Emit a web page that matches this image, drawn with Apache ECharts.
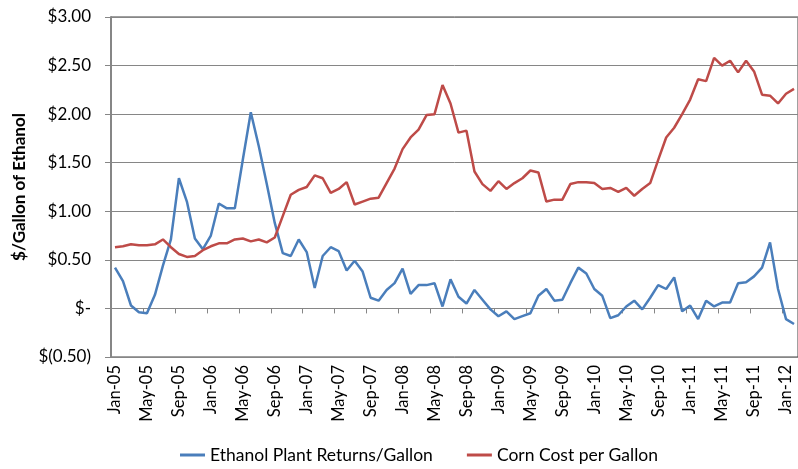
<!DOCTYPE html>
<html>
<head>
<meta charset="utf-8">
<script src="https://cdn.jsdelivr.net/npm/echarts@6/dist/echarts.min.js"></script>
<style>
  html, body { margin: 0; padding: 0; background: #fff; }
  #chart { width: 798px; height: 469px; }
</style>
</head>
<body>
<div id="chart"></div>
<script>
// monthly, Jan-05 .. Feb-12
var monthNames = ['Jan','Feb','Mar','Apr','May','Jun','Jul','Aug','Sep','Oct','Nov','Dec'];
var years = ['05','06','07','08','09','10','11','12'];
var categories = [];
years.forEach(function (y) {
  monthNames.forEach(function (m) { categories.push(m + '-' + y); });
});
categories = categories.slice(0, 86);

var plantReturns = [
  0.42, 0.28, 0.03, -0.04, -0.05, 0.14, 0.44, 0.71, 1.34, 1.10, 0.72, 0.61,
  0.75, 1.08, 1.03, 1.03, 1.53, 2.02, 1.67, 1.28, 0.88, 0.57, 0.54, 0.71,
  0.58, 0.21, 0.54, 0.63, 0.59, 0.39, 0.49, 0.38, 0.11, 0.08, 0.19, 0.26,
  0.41, 0.15, 0.24, 0.24, 0.26, 0.02, 0.30, 0.12, 0.05, 0.19, 0.09, -0.01,
  -0.08, -0.03, -0.11, -0.08, -0.05, 0.13, 0.20, 0.08, 0.09, 0.26, 0.42, 0.36,
  0.20, 0.13, -0.10, -0.07, 0.02, 0.08, -0.01, 0.11, 0.24, 0.20, 0.32, -0.03,
  0.03, -0.11, 0.08, 0.02, 0.06, 0.06, 0.26, 0.27, 0.33, 0.42, 0.68, 0.20,
  -0.11, -0.16
];
var cornCost = [
  0.63, 0.64, 0.66, 0.65, 0.65, 0.66, 0.71, 0.63, 0.56, 0.53, 0.54, 0.60,
  0.64, 0.67, 0.67, 0.71, 0.72, 0.69, 0.71, 0.68, 0.73, 0.95, 1.17, 1.22,
  1.25, 1.37, 1.34, 1.19, 1.23, 1.30, 1.07, 1.10, 1.13, 1.14, 1.29, 1.44,
  1.64, 1.76, 1.84, 1.99, 2.00, 2.30, 2.11, 1.81, 1.83, 1.41, 1.28, 1.21,
  1.31, 1.23, 1.29, 1.34, 1.42, 1.40, 1.10, 1.12, 1.12, 1.28, 1.30, 1.30,
  1.29, 1.23, 1.24, 1.20, 1.24, 1.16, 1.23, 1.29, 1.53, 1.76, 1.86, 2.00,
  2.15, 2.36, 2.34, 2.58, 2.50, 2.55, 2.43, 2.55, 2.44, 2.20, 2.19, 2.11,
  2.21, 2.26
];

var FONT = 'Lato, "Open Sans", sans-serif';

function money(v) {
  if (Math.abs(v) < 1e-9) return '$-';
  if (v < 0) return '$(' + (-v).toFixed(2) + ')';
  return '$' + v.toFixed(2);
}

var chart = echarts.init(document.getElementById('chart'));
chart.setOption({
  animation: false,
  textStyle: { fontFamily: FONT },
  grid: {
    left: 111, right: -1, top: 17, bottom: 112,
    show: true, borderColor: '#404040', borderWidth: 1
  },
  legend: {
    bottom: 0, left: 175,
    itemWidth: 25, itemHeight: 3, itemGap: 34,
    icon: 'rect',
    textStyle: { fontSize: 17.5, color: '#000', fontFamily: FONT },
    data: ['Ethanol Plant Returns/Gallon', 'Corn Cost per Gallon']
  },
  xAxis: [{
    type: 'category',
    data: categories,
    boundaryGap: true,
    axisLine: { show: false },
    axisTick: { show: false },
    axisLabel: {
      interval: 3, rotate: 90, margin: 8,
      fontSize: 16.5, color: '#000', fontFamily: FONT
    },
    splitLine: { show: false }
  }, {
    type: 'category',
    data: categories,
    boundaryGap: true,
    position: 'bottom',
    axisLine: { show: true, onZero: true, onZeroAxisIndex: 0, lineStyle: { color: '#868686', width: 1 } },
    axisTick: { show: true, interval: 3, length: 5, lineStyle: { color: '#868686' } },
    axisLabel: { show: false },
    splitLine: { show: false }
  }],
  yAxis: {
    type: 'value',
    min: -0.5, max: 3, interval: 0.5,
    name: '$/Gallon of Ethanol',
    nameLocation: 'middle',
    nameRotate: 90,
    nameGap: 77,
    nameTextStyle: { fontSize: 17, fontWeight: 'bold', color: '#000', fontFamily: FONT },
    axisLine: { show: true, lineStyle: { color: '#868686', width: 2 } },
    axisTick: { show: true, inside: false, length: 6, lineStyle: { color: '#868686' } },
    axisLabel: {
      formatter: money, margin: 20,
      fontSize: 17, color: '#000', fontFamily: FONT
    },
    splitLine: { show: true, lineStyle: { color: '#868686', width: 1 } }
  },
  series: [{
    name: 'Ethanol Plant Returns/Gallon',
    type: 'line',
    data: plantReturns,
    showSymbol: false,
    symbol: 'none',
    lineStyle: { color: '#4A7EBB', width: 2.5 },
    itemStyle: { color: '#4A7EBB' }
  }, {
    name: 'Corn Cost per Gallon',
    type: 'line',
    data: cornCost,
    showSymbol: false,
    symbol: 'none',
    lineStyle: { color: '#BE4B48', width: 2.5 },
    itemStyle: { color: '#BE4B48' }
  }]
});
</script>
</body>
</html>
